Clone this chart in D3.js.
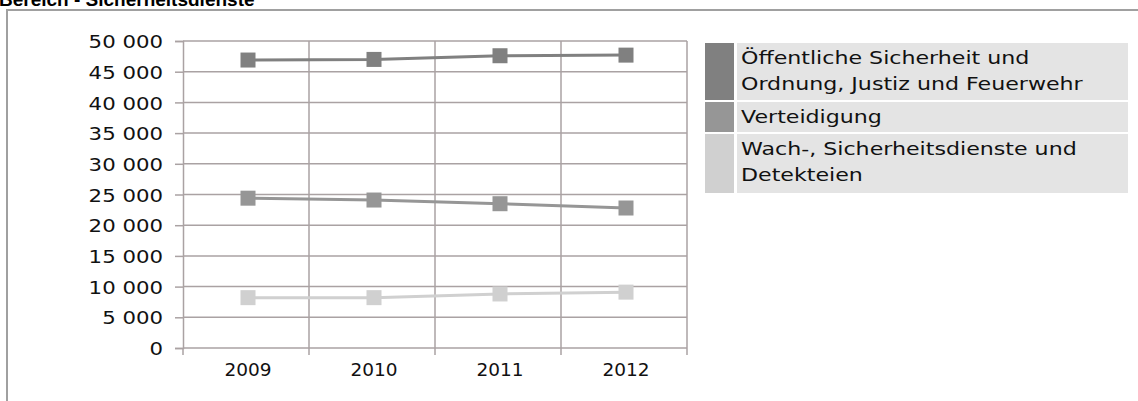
<!DOCTYPE html>
<html><head><meta charset="utf-8">
<script src="https://cdn.jsdelivr.net/npm/d3@7"></script>
<style>body{margin:0;background:#fff;}svg{display:block;}</style>
</head><body>
<script>
const title = "Bereich - Sicherheitsdienste";
const categories = ["2009", "2010", "2011", "2012"];
const seriesNames = [
  ["Öffentliche Sicherheit und", "Ordnung, Justiz und Feuerwehr"],
  ["Verteidigung"],
  ["Wach-, Sicherheitsdienste und", "Detekteien"]
];
const seriesOeffentlich = [46900, 47000, 47600, 47700];
const seriesVerteidigung = [24400, 24100, 23500, 22800];
const seriesWach = [8200, 8200, 8800, 9100];
const yTicks = [0, 5000, 10000, 15000, 20000, 25000, 30000, 35000, 40000, 45000, 50000];
const colors = ["#808080", "#969696", "#d0d0d0"];

const series = [seriesOeffentlich, seriesVerteidigung, seriesWach];
const W = 1138, H = 401;
const svg = d3.select("body").append("svg").attr("width", W).attr("height", H);

// title and frame
svg.append("text").attr("x", -1).attr("y", 5.5).text(title)
  .attr("font-family", "Liberation Sans, Arial, sans-serif").attr("font-weight", "bold")
  .attr("font-size", 19).attr("fill", "#000");
svg.append("path").attr("d", `M7,${H} V10 H${W}`).attr("fill", "none")
  .attr("stroke", "#a0a0a0").attr("stroke-width", 2);

const L = 183, R = 687, T = 41, B = 348;
const x = d3.scaleBand().domain(categories).range([L, R]).paddingInner(0).paddingOuter(0);
const y = d3.scaleLinear().domain([0, 50000]).range([B, T]);
const gridCol = "#aaa2a3";
const fmt = d => d3.format(",")(d).replace(/,/g, " ");
const axisFont = "DejaVu Sans, Verdana, sans-serif";

// horizontal gridlines
svg.append("g").selectAll("line").data(yTicks.slice(1)).join("line")
  .attr("x1", L).attr("x2", R).attr("y1", d => y(d)).attr("y2", d => y(d))
  .attr("stroke", gridCol).attr("stroke-width", 1.5);
// vertical gridlines
svg.append("g").selectAll("line").data(categories.slice(1).concat([null])).join("line")
  .attr("x1", (d, i) => i < 3 ? x(d) : R).attr("x2", (d, i) => i < 3 ? x(d) : R)
  .attr("y1", T).attr("y2", B)
  .attr("stroke", gridCol).attr("stroke-width", 1.5);

// y axis
const yAxis = svg.append("g").attr("transform", `translate(${L},0)`)
  .call(d3.axisLeft(y).tickValues(yTicks).tickFormat(fmt).tickSize(8).tickPadding(12));
yAxis.select(".domain").attr("stroke", gridCol).attr("stroke-width", 1.5);
yAxis.selectAll(".tick line").attr("stroke", gridCol).attr("stroke-width", 1.5);
const ySx = 1.15;
yAxis.selectAll("text").attr("font-family", axisFont)
  .attr("font-size", 18.5).attr("fill", "#111").attr("dy", "0.36em")
  .attr("x", -20 / ySx).attr("transform", `scale(${ySx},1)`);

// x axis
const xAxis = svg.append("g").attr("transform", `translate(0,${B})`)
  .call(d3.axisBottom(x).tickSize(0).tickPadding(15));
xAxis.select(".domain").remove();
xAxis.selectAll("text").attr("font-family", axisFont)
  .attr("font-size", 18.5).attr("fill", "#111").attr("dy", "0.71em")
  .attr("dx", 2);
svg.append("line").attr("x1", L).attr("x2", R).attr("y1", B).attr("y2", B)
  .attr("stroke", gridCol).attr("stroke-width", 1.5);
svg.append("g").selectAll("line").data(categories.slice(1).concat([null])).join("line")
  .attr("x1", (d, i) => i < 3 ? x(d) : R).attr("x2", (d, i) => i < 3 ? x(d) : R)
  .attr("y1", B).attr("y2", B + 7).attr("stroke", gridCol).attr("stroke-width", 1.5);
svg.append("line").attr("x1", L).attr("x2", L).attr("y1", B).attr("y2", B + 7)
  .attr("stroke", gridCol).attr("stroke-width", 1.5);

// lines and markers
const cx = c => x(c) + x.bandwidth() / 2 + 2;
const line = d3.line().x((d, i) => cx(categories[i])).y(d => y(d));
series.forEach((s, k) => {
  svg.append("path").datum(s).attr("d", line).attr("fill", "none")
    .attr("stroke", colors[k]).attr("stroke-width", 3);
  svg.append("g").selectAll("rect").data(s).join("rect")
    .attr("x", (d, i) => cx(categories[i]) - 7.5).attr("y", d => y(d) - 7.5)
    .attr("width", 15).attr("height", 15).attr("fill", colors[k]);
});

// legend
const legX = 705, swW = 29, txtX = 737, legR = 1128;
const rows = [[43, 100], [102, 132], [134, 193]];
rows.forEach((r, k) => {
  svg.append("rect").attr("x", legX).attr("y", r[0]).attr("width", swW).attr("height", r[1] - r[0])
    .attr("fill", colors[k]);
  svg.append("rect").attr("x", txtX).attr("y", r[0]).attr("width", legR - txtX).attr("height", r[1] - r[0])
    .attr("fill", "#e4e4e4");
  seriesNames[k].forEach((t, j) => {
    svg.append("g").attr("transform", `translate(741,${r[0] + 21 + j * 26}) scale(1.21,1)`)
      .append("text").attr("x", 0).attr("y", 0).text(t)
      .attr("font-family", "DejaVu Sans, Verdana, sans-serif").attr("font-size", 18.3)
      .attr("fill", "#111");
  });
});
</script>
</body></html>
